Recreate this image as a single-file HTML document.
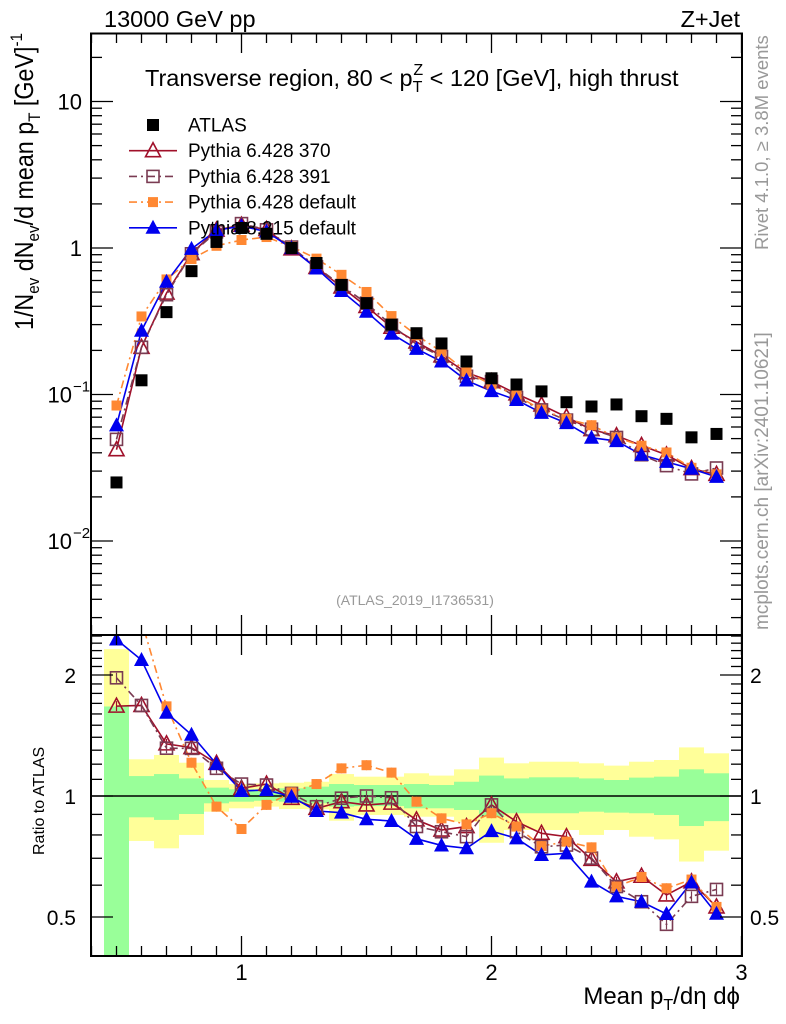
<!DOCTYPE html>
<html><head><meta charset="utf-8"><style>
html,body{margin:0;padding:0;background:#fff;}
svg{display:block;font-family:"Liberation Sans",sans-serif;}
</style></head><body>
<svg id="chart" width="786" height="1024" viewBox="0 0 786 1024" xmlns="http://www.w3.org/2000/svg">
<defs>
<clipPath id="clipMain"><rect x="91" y="33" width="651" height="602"/></clipPath>
<clipPath id="clipRatio"><rect x="91" y="635" width="651" height="321"/></clipPath>
</defs>
<g id="bands" clip-path="url(#clipRatio)"></g>
<line x1="91" y1="796" x2="742" y2="796" stroke="#000" stroke-width="1.5"/>
<g id="series"></g>
<g id="axes"></g>
<rect x="91" y="33.5" width="651" height="601.5" fill="none" stroke="#000" stroke-width="2"/>
<rect x="91" y="635" width="651" height="321" fill="none" stroke="#000" stroke-width="2"/>

<text x="104" y="27" font-size="23.5">13000 GeV pp</text>
<text x="740" y="27" font-size="23.5" text-anchor="end">Z+Jet</text>
<text x="145" y="86" font-size="23.5">Transverse region, 80 &lt; p<tspan font-size="16" dy="6">T</tspan><tspan font-size="16" dx="-9" dy="-17">Z</tspan><tspan dy="11"> &lt; 120 [GeV], high thrust</tspan></text>
<text x="415" y="605" font-size="14" fill="#999" text-anchor="middle">(ATLAS_2019_I1736531)</text>
<text transform="translate(768,250) rotate(-90)" font-size="18.5" fill="#999">Rivet 4.1.0, ≥ 3.8M events</text>
<text transform="translate(768,630) rotate(-90)" font-size="19" fill="#999">mcplots.cern.ch [arXiv:2401.10621]</text>
<text transform="translate(33,330) rotate(-90)" font-size="26" textLength="297" lengthAdjust="spacingAndGlyphs">1/N<tspan font-size="17" dy="6">ev</tspan><tspan dy="-6"> dN</tspan><tspan font-size="17" dy="6">ev</tspan><tspan dy="-6">/d mean p</tspan><tspan font-size="17" dy="7">T</tspan><tspan dy="-7"> [GeV]</tspan><tspan font-size="17" dy="-11">-1</tspan></text>
<text transform="translate(44,855) rotate(-90)" font-size="16">Ratio to ATLAS</text>
<text x="740" y="1004" font-size="24" text-anchor="end">Mean p<tspan font-size="16" dy="6">T</tspan><tspan dy="-6">/dη dϕ</tspan></text>

<g id="legend"></g>
</svg>
<script>
const xs = [0.5,0.6,0.7,0.8,0.9,1.0,1.1,1.2,1.3,1.4,1.5,1.6,1.7,1.8,1.9,2.0,2.1,2.2,2.3,2.4,2.5,2.6,2.7,2.8,2.9];
const atlas = [0.0251,0.125,0.365,0.695,1.10,1.37,1.25,1.00,0.79,0.56,0.42,0.30,0.262,0.223,0.168,0.129,0.117,0.105,0.0886,0.0828,0.0855,0.0711,0.0682,0.051,0.0538];
const py370 = [0.0420,0.210,0.492,0.917,1.326,1.432,1.338,0.987,0.736,0.542,0.399,0.288,0.2285,0.1835,0.141,0.1226,0.101,0.0848,0.0702,0.0576,0.0523,0.0449,0.0387,0.0312,0.0285];
const py391 = [0.0494,0.210,0.480,0.913,1.289,1.467,1.331,1.015,0.743,0.553,0.420,0.297,0.220,0.1817,0.1331,0.1226,0.0954,0.0785,0.0669,0.0580,0.0509,0.0388,0.0327,0.0287,0.0315];
const py6def = [0.0841,0.341,0.610,0.841,1.035,1.134,1.188,1.021,0.846,0.656,0.501,0.343,0.2536,0.1962,0.1428,0.1169,0.0982,0.0788,0.0682,0.0617,0.0509,0.0447,0.0402,0.0316,0.0285];
const py8def = [0.0615,0.2725,0.588,0.987,1.32,1.41,1.294,0.996,0.725,0.509,0.3675,0.260,0.205,0.168,0.1245,0.1055,0.0918,0.0749,0.0638,0.0507,0.0481,0.0388,0.0347,0.0311,0.0274];
const yellowHi = [2.32,1.234,1.265,1.210,1.096,1.071,1.075,1.079,1.085,1.134,1.117,1.117,1.139,1.124,1.165,1.246,1.206,1.217,1.217,1.206,1.190,1.217,1.229,1.321,1.277];
const greenHi = [1.67,1.121,1.134,1.106,1.049,1.039,1.035,1.045,1.055,1.071,1.065,1.065,1.071,1.065,1.085,1.124,1.106,1.113,1.113,1.106,1.096,1.111,1.117,1.165,1.139];
const greenLo = [0.3,0.885,0.872,0.902,0.959,0.968,0.973,0.968,0.959,0.941,0.944,0.944,0.932,0.932,0.923,0.888,0.906,0.906,0.906,0.914,0.909,0.906,0.897,0.842,0.866];
const yellowLo = [0.3,0.773,0.741,0.800,0.914,0.932,0.941,0.928,0.927,0.868,0.897,0.897,0.888,0.888,0.863,0.765,0.823,0.823,0.823,0.800,0.823,0.792,0.780,0.687,0.731];
const xTickLabels = ["1","2","3"];
const ratioTickLabels = ["0.5","1","2"];

const NS = "http://www.w3.org/2000/svg";
function X(v){ return 241.5 + (v-1)*250; }
function YM(v){ return 248 - 146.5*Math.log10(v); }
function YR(r){ return 796 - 121*Math.log2(r); }
function mk(tag, attrs, parent){
  const e = document.createElementNS(NS, tag);
  for (const k in attrs) e.setAttribute(k, attrs[k]);
  parent.appendChild(e); return e;
}
const bands = document.getElementById('bands');
const series = document.getElementById('series');
const axes = document.getElementById('axes');
const legend = document.getElementById('legend');
const half = 0.05;

for (let i=0;i<xs.length;i++){
  const x0 = X(xs[i]-half), x1 = X(xs[i]+half);
  const y = mk('rect',{x:x0,y:YR(yellowHi[i]),width:x1-x0,height:YR(yellowLo[i])-YR(yellowHi[i]),fill:'#ffff99'},bands);
  
  
}
for (let i=0;i<xs.length;i++){
  const x0 = X(xs[i]-half), x1 = X(xs[i]+half);
  const g = mk('rect',{x:x0,y:YR(greenHi[i]),width:x1-x0,height:YR(greenLo[i])-YR(greenHi[i]),fill:'#99ff99'},bands);
  
  
}

function marker(parent, type, cx, cy, color){
  let e;
  if (type==='sqFill') e = mk('rect',{x:cx-6,y:cy-6,width:12,height:12,fill:color},parent);
  else if (type==='sqOpen') e = mk('rect',{x:cx-6,y:cy-6,width:12,height:12,fill:'none',stroke:color,'stroke-width':1.6},parent);
  else if (type==='sqSmall') e = mk('rect',{x:cx-5,y:cy-5,width:10,height:10,fill:color},parent);
  else if (type==='triOpen') e = mk('polygon',{points:`${cx},${cy-8} ${cx-7.5},${cy+6} ${cx+7.5},${cy+6}`,fill:'none',stroke:color,'stroke-width':1.6},parent);
  else e = mk('polygon',{points:`${cx},${cy-8} ${cx-7.5},${cy+6} ${cx+7.5},${cy+6}`,fill:color},parent);
  return e;
}

const mcs = [
  {name:'pythia-6-428-370', vals:py370, color:'#a0102a', dash:'', m:'triOpen'},
  {name:'pythia-6-428-391', vals:py391, color:'#7a3b52', dash:'8,4,2,4', m:'sqOpen'},
  {name:'pythia-6-428-default', vals:py6def, color:'#ff8833', dash:'8,4,2,4', m:'sqSmall'},
  {name:'pythia-8-215-default', vals:py8def, color:'#0000ee', dash:'', m:'triFill'}
];

const gMain = mk('g',{'clip-path':'url(#clipMain)'},series);


const gRat = mk('g',{'clip-path':'url(#clipRatio)'},series);



for (const s of mcs){
  const pm = s.vals.map((v,i)=>`${X(xs[i])},${YM(v)}`).join(' ');
  const l1 = mk('polyline',{points:pm,fill:'none',stroke:s.color,'stroke-width':1.6,'stroke-dasharray':s.dash},gMain);
  
  
  const pr = s.vals.map((v,i)=>`${X(xs[i])},${YR(v/atlas[i])}`).join(' ');
  const l2 = mk('polyline',{points:pr,fill:'none',stroke:s.color,'stroke-width':1.6,'stroke-dasharray':s.dash},gRat);
  
  
}
for (const s of mcs){
  s.vals.forEach((v,i)=>{
    const p = marker(gMain, s.m, X(xs[i]), YM(v), s.color);
    
    
    const cy = YR(v/atlas[i]);
    const eb = mk('line',{x1:X(xs[i]),x2:X(xs[i]),y1:cy-5,y2:cy+5,stroke:s.color,'stroke-width':1.2},gRat);
    
    
    const q = marker(gRat, s.m, X(xs[i]), cy, s.color);
    
    
  });
}
atlas.forEach((v,i)=>{
  const p = marker(gMain,'sqFill',X(xs[i]),YM(v),'#000');
  
  
});

function tick(x1,y1,x2,y2){
  const t = mk('line',{x1,y1,x2,y2,stroke:'#000','stroke-width':1.3},axes);
  
  
}
for (let k=4;k<=30;k++){
  const v = k/10, x = X(v), major = (k%10===0);
  const L = major?20:10;
  tick(x,33,x,33+L); tick(x,635,x,635-L);
  tick(x,635,x,635+L); tick(x,956,x,956-L);
}
xTickLabels.forEach(s=>{
  const t = mk('text',{x:X(parseFloat(s)),y:980,'font-size':22,'text-anchor':'middle'},axes);
  t.textContent = s;
  
  
});
for (let e=-3;e<=1;e++){
  for (let m=1;m<=9;m++){
    const v = m*Math.pow(10,e), y = YM(v);
    if (y<34 || y>634) continue;
    const L = m===1?22:11;
    tick(91,y,91+L,y); tick(742,y,742-L,y);
  }
}
const mainLabels = [[10,'10',''],[1,'1',''],[0.1,'10','−1'],[0.01,'10','−2']];
mainLabels.forEach(([v,b,sup])=>{
  const t = mk('text',{x:sup?72:82,y:YM(v)+8,'font-size':22,'text-anchor':'end'},axes);
  t.textContent = b;
  
  
  if (sup){
    const s2 = mk('text',{x:73,y:YM(v)-3,'font-size':15},axes);
    s2.textContent = sup;
    
    
  }
});
for (let k=4;k<=25;k++){
  const v = k/10, y = YR(v);
  if (y<636 || y>955) continue;
  const major = (k===5||k===10||k===20);
  const L = major?22:11;
  tick(91,y,91+L,y); tick(742,y,742-L,y);
}
ratioTickLabels.forEach(s=>{
  const y = YR(parseFloat(s))+8;
  const a = mk('text',{x:76,y:y,'font-size':21,'text-anchor':'end'},axes);
  a.textContent = s;
  
  
  const b = mk('text',{x:750,y:y,'font-size':21},axes);
  b.textContent = s;
  
  
});

const legItems = [
  {label:'ATLAS', m:'sqFill', color:'#000', dash:null, name:'legend-entry-atlas'},
  {label:'Pythia 6.428 370', m:'triOpen', color:'#a0102a', dash:'', name:'legend-entry-pythia-370'},
  {label:'Pythia 6.428 391', m:'sqOpen', color:'#7a3b52', dash:'8,4,2,4', name:'legend-entry-pythia-391'},
  {label:'Pythia 6.428 default', m:'sqSmall', color:'#ff8833', dash:'8,4,2,4', name:'legend-entry-pythia6-default'},
  {label:'Pythia 8.215 default', m:'triFill', color:'#0000ee', dash:'', name:'legend-entry-pythia8-default'}
];
legItems.forEach((it,i)=>{
  const y = 125 + i*25.7;
  const g = mk('g',{},legend);
  
  
  if (it.dash!==null) mk('line',{x1:129,x2:177,y1:y,y2:y,stroke:it.color,'stroke-width':1.6,'stroke-dasharray':it.dash},g);
  marker(g, it.m, 153, y, it.color);
  const t = mk('text',{x:188,y:y+6.5,'font-size':19},g);
  t.textContent = it.label;
});
</script>
</body></html>
